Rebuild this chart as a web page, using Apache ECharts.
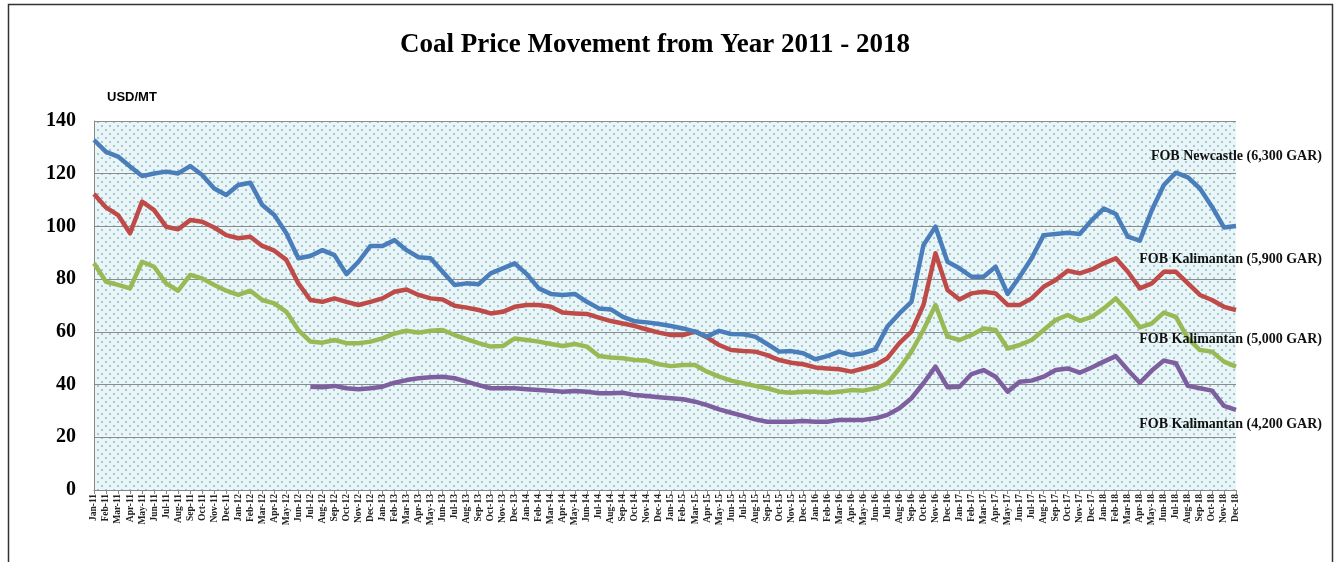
<!DOCTYPE html>
<html>
<head>
<meta charset="utf-8">
<script src="https://cdn.jsdelivr.net/npm/echarts@6/dist/echarts.min.js"></script>
<style>
html,body{margin:0;padding:0;background:#fff;}
#chart{width:1341px;height:562px;}
</style>
</head>
<body>
<div id="chart"></div>
<script>
const months = [];
const monthNames = ['Jan','Feb','Mar','Apr','May','Jun','Jul','Aug','Sep','Oct','Nov','Dec'];
const years = ['11','12','13','14','15','16','17','18'];
years.forEach(y => monthNames.forEach(m => months.push(m + '-' + y)));

const newcastle6300 = [
  132.8,128.3,126.5,122.7,119.1,120.1,120.8,120.1,122.9,119.5,114.4,111.9,
  115.7,116.6,108.1,104.3,97.4,87.9,88.8,91.0,89.1,81.9,86.6,92.6,
  92.6,94.8,91.0,88.3,87.9,82.8,77.8,78.4,78.1,82.2,84.1,86.0,
  81.9,76.5,74.4,74.0,74.4,71.4,68.9,68.5,65.7,64.0,63.6,63.0,
  62.2,61.3,60.1,58.2,60.4,59.2,59.1,58.2,55.4,52.5,52.7,51.9,
  49.6,50.8,52.5,51.2,51.9,53.4,62.0,67.0,71.4,92.9,99.9,86.6,
  84.1,80.9,80.9,84.7,74.4,80.9,87.9,96.7,97.1,97.6,97.1,102.4,
  106.8,104.7,96.1,94.6,106.2,115.7,120.4,118.6,114.4,107.5,99.6,100.2
];
const kalimantan5900 = [
  112.3,107.2,104.3,97.4,109.4,106.2,99.9,98.9,102.4,101.8,99.6,96.7,
  95.5,96.1,92.6,90.8,87.3,78.4,72.1,71.4,72.7,71.4,70.2,71.4,
  72.7,75.2,76.1,74.0,72.7,72.3,69.9,69.2,68.3,67.0,67.6,69.5,
  70.2,70.2,69.5,67.3,67.0,66.8,65.4,64.1,63.2,62.2,60.9,59.7,
  58.8,58.8,60.1,57.9,55.0,53.1,52.7,52.5,51.2,49.3,48.3,47.7,
  46.5,46.1,45.8,44.9,46.1,47.4,50.0,55.7,60.1,70.2,89.8,75.9,
  72.3,74.6,75.2,74.6,70.2,70.2,72.7,77.1,79.7,83.2,82.2,83.7,
  86.0,87.9,82.8,76.5,78.4,82.8,82.8,78.4,74.0,72.1,69.5,68.3
];
const kalimantan5000 = [
  86.0,79.0,77.8,76.5,86.6,84.7,78.4,75.6,81.6,80.3,77.8,75.6,
  74.0,75.6,72.1,70.8,67.6,60.7,56.3,55.9,56.9,55.7,55.7,56.3,
  57.5,59.4,60.4,59.7,60.4,60.7,58.8,57.2,55.7,54.4,54.6,57.5,
  56.9,56.3,55.4,54.6,55.4,54.4,50.8,50.3,50.0,49.3,49.1,47.7,
  47.0,47.4,47.4,44.9,43.0,41.5,40.5,39.5,38.6,37.3,36.9,37.3,
  37.3,36.9,37.3,37.9,37.7,38.6,40.5,46.1,52.5,60.7,70.2,58.2,
  56.9,58.8,61.3,60.7,53.7,55.0,56.9,60.7,64.5,66.4,64.2,65.7,
  68.9,72.7,67.6,61.7,63.2,67.3,65.7,57.5,53.1,52.5,48.7,46.8
];
const kalimantan4200 = [
  null,null,null,null,null,null,null,null,null,null,null,null,
  null,null,null,null,null,null,39.2,39.0,39.5,38.6,38.2,38.6,
  39.2,40.7,41.7,42.4,42.8,43.0,42.4,41.1,39.8,38.6,38.6,38.6,
  38.2,37.9,37.7,37.3,37.6,37.3,36.7,36.7,36.9,36.0,35.7,35.2,
  34.8,34.4,33.5,32.2,30.6,29.3,28.1,26.8,25.9,25.9,25.9,26.2,
  25.9,25.9,26.6,26.6,26.6,27.2,28.5,31.0,34.8,40.5,46.8,39.0,
  39.2,44.0,45.5,43.0,37.3,41.1,41.5,43.0,45.5,46.1,44.5,46.5,
  48.7,50.8,45.5,40.7,45.3,49.1,48.1,39.5,38.6,37.7,31.9,30.4
];
const seriesNames = ['FOB Newcastle (6,300 GAR)','FOB Kalimantan (5,900 GAR)','FOB Kalimantan (5,000 GAR)','FOB Kalimantan (4,200 GAR)'];
const yTicks = [0,20,40,60,80,100,120,140];

// dotted background pattern
const pc = document.createElement('canvas');
pc.width = 8; pc.height = 8;
const pctx = pc.getContext('2d');
pctx.fillStyle = '#eaf5f7'; pctx.fillRect(0,0,8,8);
pctx.fillStyle = '#a2c9d3';
pctx.fillRect(1,1,2,2);
pctx.fillRect(5,5,2,2);

const chart = echarts.init(document.getElementById('chart'), null, {renderer:'canvas'});
const colors = ['#4a7ebb','#be4b48','#98b954','#7d5fa0'];
const serif = '"Liberation Serif","Times New Roman",serif';
const labelY = [157, 260, 340, 425];

chart.setOption({
  animation:false,
  backgroundColor:'#ffffff',
  title:{
    text:'Coal Price Movement from Year 2011 - 2018',
    left:650, top:27, textAlign:'center',
    textStyle:{fontFamily:serif, fontWeight:'bold', fontSize:27, color:'#000'}
  },
  grid:{left:94, right:105, top:121, bottom:72, show:true, borderWidth:0,
        backgroundColor:{image:pc, repeat:'repeat'}},
  xAxis:{
    type:'category', data:months, boundaryGap:false,
    axisLine:{lineStyle:{color:'#888', width:1}},
    axisTick:{show:true, interval:0, length:4, lineStyle:{color:'#888'}},
    axisLabel:{interval:0, rotate:90, fontSize:9.5, fontWeight:'bold', fontFamily:serif, color:'#222', margin:4},
    splitLine:{show:false}
  },
  yAxis:{
    type:'value', min:0, max:140, interval:20,
    axisLine:{show:true, lineStyle:{color:'#888'}},
    axisTick:{show:false},
    axisLabel:{fontFamily:serif, fontWeight:'bold', fontSize:20, color:'#000', margin:18,
      formatter: v => yTicks.indexOf(v) >= 0 ? String(v) : ''},
    splitLine:{lineStyle:{color:'#8c8c8c', width:1}}
  },
  series:[newcastle6300, kalimantan5900, kalimantan5000, kalimantan4200].map((d,i)=>({
    name:seriesNames[i], type:'line', data:d, showSymbol:false, symbol:'none',
    lineStyle:{color:colors[i], width:4.5, join:'round'}, itemStyle:{color:colors[i]},
    connectNulls:false, z:10-i
  })),
  graphic:[
    {type:'rect', shape:{x:8.5, y:4.5, width:1324, height:600}, style:{fill:null, stroke:'#333', lineWidth:1.5}, silent:true, z:-1},
    {type:'text', left:107, top:91, z:100,
     style:{text:'USD/MT', fontFamily:'"Liberation Sans Narrow","Liberation Sans",Arial,sans-serif', fontWeight:'bold', fontSize:13, fill:'#000'}},
    ...seriesNames.map((n,i)=>({
      type:'text', right:19, top:labelY[i]-8, z:100,
      style:{text:n, fontFamily:serif, fontWeight:'bold', fontSize:14, fill:'#111'}
    }))
  ]
});
</script>
</body>
</html>
